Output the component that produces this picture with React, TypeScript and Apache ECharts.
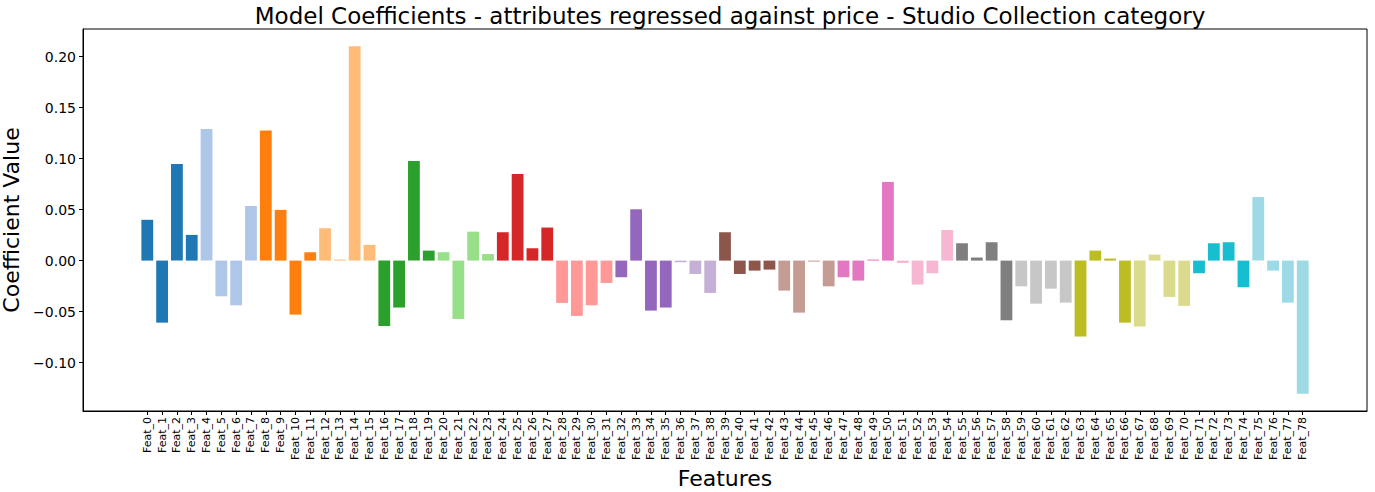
import React, { useEffect, useRef } from 'react';
import * as echarts from 'echarts';

const featureNames: string[] = Array.from({ length: 79 }, (_, i) => `Feat_${i}`);

const coefficients: number[] = [
  0.040, -0.0608, 0.0948, 0.0252, 0.129, -0.035, -0.0438, 0.0536, 0.1275, 0.0497,
  -0.0529, 0.0082, 0.0317, 0.001, 0.2100, 0.0154, -0.064, -0.046, 0.0977, 0.0098,
  0.0082, -0.0572, 0.0284, 0.0065, 0.0278, 0.085, 0.0121, 0.0324, -0.0415, -0.0542,
  -0.0438, -0.0219, -0.0163, 0.0503, -0.049, -0.046, -0.0016, -0.0131, -0.0317, 0.0278,
  -0.0131, -0.0098, -0.0088, -0.0294, -0.051, -0.001, -0.0252, -0.0163, -0.0196, 0.001,
  0.0771, -0.0023, -0.0235, -0.0124, 0.030, 0.017, 0.003, 0.018, -0.0585, -0.0252,
  -0.0422, -0.0275, -0.0412, -0.0745, 0.0098, 0.002, -0.0608, -0.0647, 0.0059, -0.0356,
  -0.0444, -0.0124, 0.017, 0.018, -0.0261, 0.0624, -0.0098, -0.0412, -0.1304,
];

const yTicks: number[] = [-0.10, -0.05, 0.0, 0.05, 0.10, 0.15, 0.20];

const TAB20 = [
  '#1f77b4', '#aec7e8', '#ff7f0e', '#ffbb78', '#2ca02c', '#98df8a', '#d62728', '#ff9896',
  '#9467bd', '#c5b0d5', '#8c564b', '#c49c94', '#e377c2', '#f7b6d2', '#7f7f7f', '#c7c7c7',
  '#bcbd22', '#dbdb8d', '#17becf', '#9edae5',
];

const FONT = "'DejaVu Sans', 'Liberation Sans', sans-serif";

export default function App() {
  const ref = useRef<HTMLDivElement>(null);

  useEffect(() => {
    if (!ref.current) return;
    const chart = echarts.init(ref.current, null, { renderer: 'svg' });
    const n = coefficients.length;
    const dMin = Math.min(...coefficients);
    const dMax = Math.max(...coefficients);
    const yMin = dMin - 0.05 * (dMax - dMin);
    const yMax = dMax + 0.05 * (dMax - dMin);
    const xLo = -0.4;
    const xHi = n - 1 + 0.4;
    const xMin = xLo - 0.05 * (xHi - xLo);
    const xMax = xHi + 0.05 * (xHi - xLo);
    const idx = featureNames.map((_, i) => i);

    chart.setOption({
      animation: false,
      backgroundColor: '#ffffff',
      title: {
        text: 'Model Coefficients - attributes regressed against price - Studio Collection category',
        left: 725,
        top: -1,
        textAlign: 'center',
        textStyle: { fontFamily: FONT, fontSize: 23, fontWeight: 'normal', color: '#000' },
      },
      grid: {
        left: 83,
        right: 8,
        top: 29,
        bottom: 81,
        show: true,
        borderColor: '#000',
        borderWidth: 1,
        outerBoundsMode: 'none',
      },
      xAxis: {
        type: 'value',
        min: xMin,
        max: xMax,
        name: 'Features',
        nameLocation: 'middle',
        nameGap: 56,
        nameTextStyle: { fontFamily: FONT, fontSize: 22, color: '#000' },
        splitLine: { show: false },
        axisLine: { show: true, onZero: false, lineStyle: { color: '#000', width: 1 } },
        axisTick: { show: true, customValues: idx, length: 4, lineStyle: { color: '#000' } },
        axisLabel: {
          customValues: idx,
          rotate: 90,
          margin: 6,
          fontFamily: FONT,
          fontSize: 11,
          color: '#000',
          formatter: (v: number) => featureNames[Math.round(v)] ?? '',
        },
      },
      yAxis: {
        type: 'value',
        min: yMin,
        max: yMax,
        name: 'Coefficient Value',
        nameLocation: 'middle',
        nameRotate: 90,
        nameGap: 58,
        nameTextStyle: { fontFamily: FONT, fontSize: 22, color: '#000' },
        splitLine: { show: false },
        axisLine: { show: true, onZero: false, lineStyle: { color: '#000', width: 1 } },
        axisTick: { show: true, customValues: yTicks, length: 4, lineStyle: { color: '#000' } },
        axisLabel: {
          customValues: yTicks,
          margin: 7,
          fontFamily: FONT,
          fontSize: 14,
          color: '#000',
          formatter: (v: number) => (v < -1e-9 ? '\u2212' : '') + Math.abs(v).toFixed(2),
        },
      },
      series: [
        {
          type: 'bar',
          barWidth: 11.8,
          data: coefficients.map((v, i) => ({
            value: [i, v],
            itemStyle: { color: TAB20[Math.min(19, Math.floor((i * 20) / (n - 1)))] },
          })),
        },
      ],
    });
    return () => chart.dispose();
  }, []);

  return (
    <div
      ref={ref}
      style={{ position: 'fixed', left: 0, top: 0, width: 1375, height: 492, background: '#fff' }}
    />
  );
}
